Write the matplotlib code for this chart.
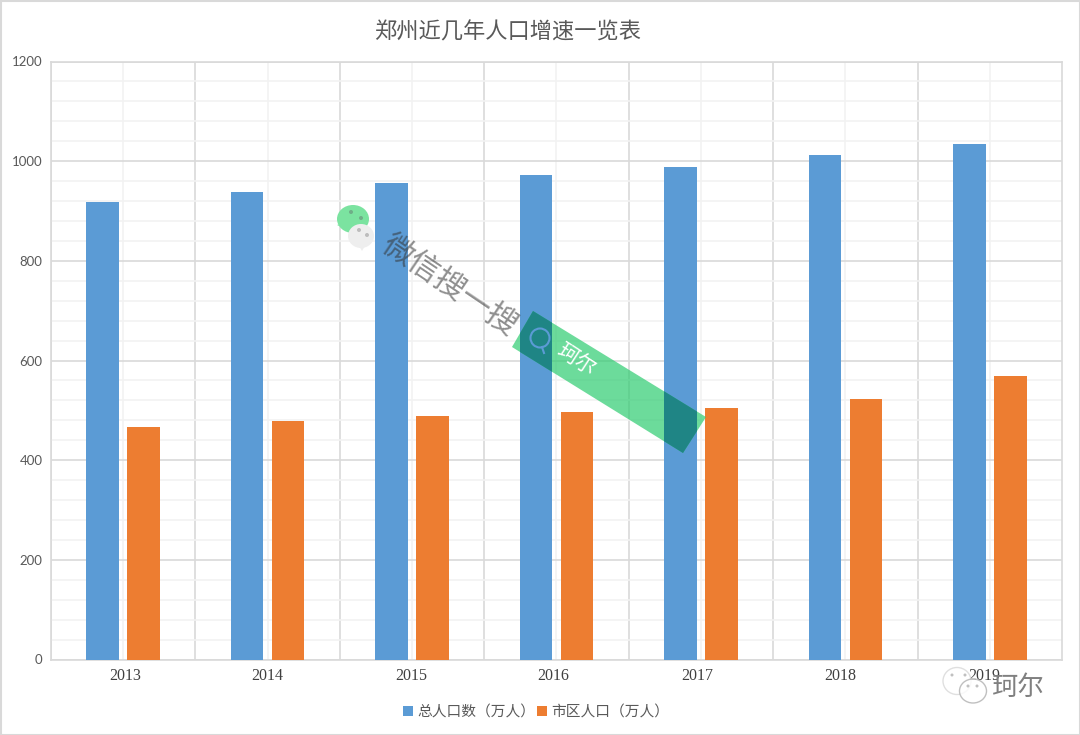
import numpy as np
import matplotlib
matplotlib.use("Agg")
import matplotlib.pyplot as plt
from matplotlib.patches import Polygon, Ellipse, Rectangle
from matplotlib.transforms import ScaledTranslation

plt.rcParams['font.family'] = ['Noto Sans CJK SC', 'DejaVu Sans']

years = ['2013', '2014', '2015', '2016', '2017', '2018', '2019']
total_pop = [919, 939, 957, 972, 989, 1013, 1034]
city_pop = [466, 478, 488, 496, 505, 522, 568]
y_ticks = [0, 200, 400, 600, 800, 1000, 1200]
minor_y = [40 * i for i in range(31)]
title = '郑州近几年人口增速一览表'
names = ['总人口数（万人）', '市区人口（万人）']
label_shift_px = [2, 0, -1, -3, -4, -5, -6]  # the year labels drift off the bar groups

W, H = 1080, 735
BLUE = '#5b9bd5'
ORANGE = '#ed7d31'
TXT = '#595959'
BAND = [(533, 311), (706, 417), (683, 453), (512, 347)]

def main():
    fig = plt.figure(figsize=(W / 100, H / 100), dpi=100)
    ax = fig.add_axes([51 / W, 1 - 659.5 / H, 1011 / W, 598 / H])

    x = np.arange(len(years))
    blue_bars = ax.bar(x - 0.142, total_pop, 0.226, color=BLUE, zorder=3, label=names[0])
    ax.bar(x + 0.142, city_pop, 0.226, color=ORANGE, zorder=3, label=names[1])

    ax.set_xlim(-0.5, len(years) - 0.5)
    ax.set_ylim(0, 1200)
    ax.set_yticks(y_ticks)
    ax.set_yticks(minor_y, minor=True)
    ax.set_xticks(x)
    ax.set_xticks(x - 0.5, minor=True)
    ax.set_xticklabels(years, family='Liberation Serif', fontsize=11.5, color='#404040')
    ax.tick_params(axis='x', which='both', length=0, pad=6)
    ax.tick_params(axis='y', which='both', length=0, pad=6, labelsize=9.5, labelcolor=TXT)
    for lab in ax.get_yticklabels():
        lab.set_family('Lato')
    for lab, dx in zip(ax.get_xticklabels(), label_shift_px):
        lab.set_transform(lab.get_transform() + ScaledTranslation(dx / 100, 0, fig.dpi_scale_trans))

    # heavy grid on the category edges and every 200, faint one between
    ax.set_axisbelow(True)
    ax.grid(True, which='major', axis='y', color='#d9d9d9', lw=1.2, zorder=1)
    ax.grid(True, which='minor', axis='y', color='#f2f2f2', lw=1.2, zorder=0)
    ax.grid(True, which='minor', axis='x', color='#d9d9d9', lw=1.2, zorder=1)
    ax.grid(True, which='major', axis='x', color='#f2f2f2', lw=1.2, zorder=0)
    for s in ax.spines.values():
        s.set_color('#d9d9d9')
        s.set_linewidth(1.2)

    fig.text(508 / W, 1 - 32 / H, title, ha='center', va='center', fontsize=16, color=TXT)
    ax.legend(loc='center', bbox_to_anchor=(0.4797, -0.0885), ncol=2, frameon=False, fontsize=10.6,
              labelcolor=TXT, handlelength=0.7, handleheight=0.7, handletextpad=0.3, columnspacing=0.1)

    # overlay in pixel coordinates for the watermark and outer frame
    ov = fig.add_axes([0, 0, 1, 1], zorder=5)
    ov.set_xlim(0, W)
    ov.set_ylim(H, 0)
    ov.axis('off')
    ov.add_patch(Rectangle((0.5, 0.5), W - 1, H - 1, fill=False, ec='#d9d9d9', lw=1.5))

    ov.add_patch(Polygon(BAND, color='#2ecc71', alpha=0.7, lw=0))
    # the band darkens the blue bars it crosses
    for i in [3, 4]:
        dark = Polygon(BAND, color='#1f8585', lw=0, zorder=1.5)
        ov.add_patch(dark)
        dark.set_clip_path(blue_bars[i])
    ov.add_patch(Ellipse((540, 338), 19, 19, fill=False, ec=BLUE, lw=1.5, zorder=2))
    ov.plot([542, 544], [347, 353], color=BLUE, lw=1.5, zorder=2)
    ov.text(576, 360, '珂尔', rotation=-33, rotation_mode='anchor', ha='center', va='center',
            fontsize=15, color='white')
    ov.text(449, 285, '微信搜一搜', rotation=-34, rotation_mode='anchor', ha='center', va='center',
            fontsize=22.5, color='#333333', alpha=0.55)

    ov.add_patch(Ellipse((353, 219), 32, 28, color='#7be3a0', lw=0))
    ov.add_patch(Polygon([(337, 225), (346, 222), (346, 229)], color='#7be3a0', lw=0))
    ov.add_patch(Ellipse((361, 236), 26, 24, color='#eeeeee', lw=0))
    ov.add_patch(Polygon([(359, 246), (365, 246), (362, 251)], color='#eeeeee', lw=0))
    for px, py, c in [(351, 212, '#6fae88'), (361, 218, '#6fae88'), (359, 230, '#bdbdbd'), (367, 235, '#bdbdbd')]:
        ov.add_patch(Ellipse((px, py), 4, 4, color=c, lw=0))

    # bottom right account mark
    ov.add_patch(Ellipse((957, 681), 28, 27, fc='white', ec='#d8d8d8', lw=1, alpha=0.8))
    ov.add_patch(Ellipse((973, 691), 27, 24, fc='white', ec='#b0b0b0', lw=1, alpha=0.8))
    for px, py in [(952, 675), (965, 675), (968, 686), (977, 686)]:
        ov.add_patch(Ellipse((px, py), 3, 3, color='#c0c0c0', lw=0))
    ov.text(1018, 687, '珂尔', ha='center', va='center', fontsize=19, color='#808080')

    fig.savefig('out.png', dpi=100)

if __name__ == "__main__":
    main()
